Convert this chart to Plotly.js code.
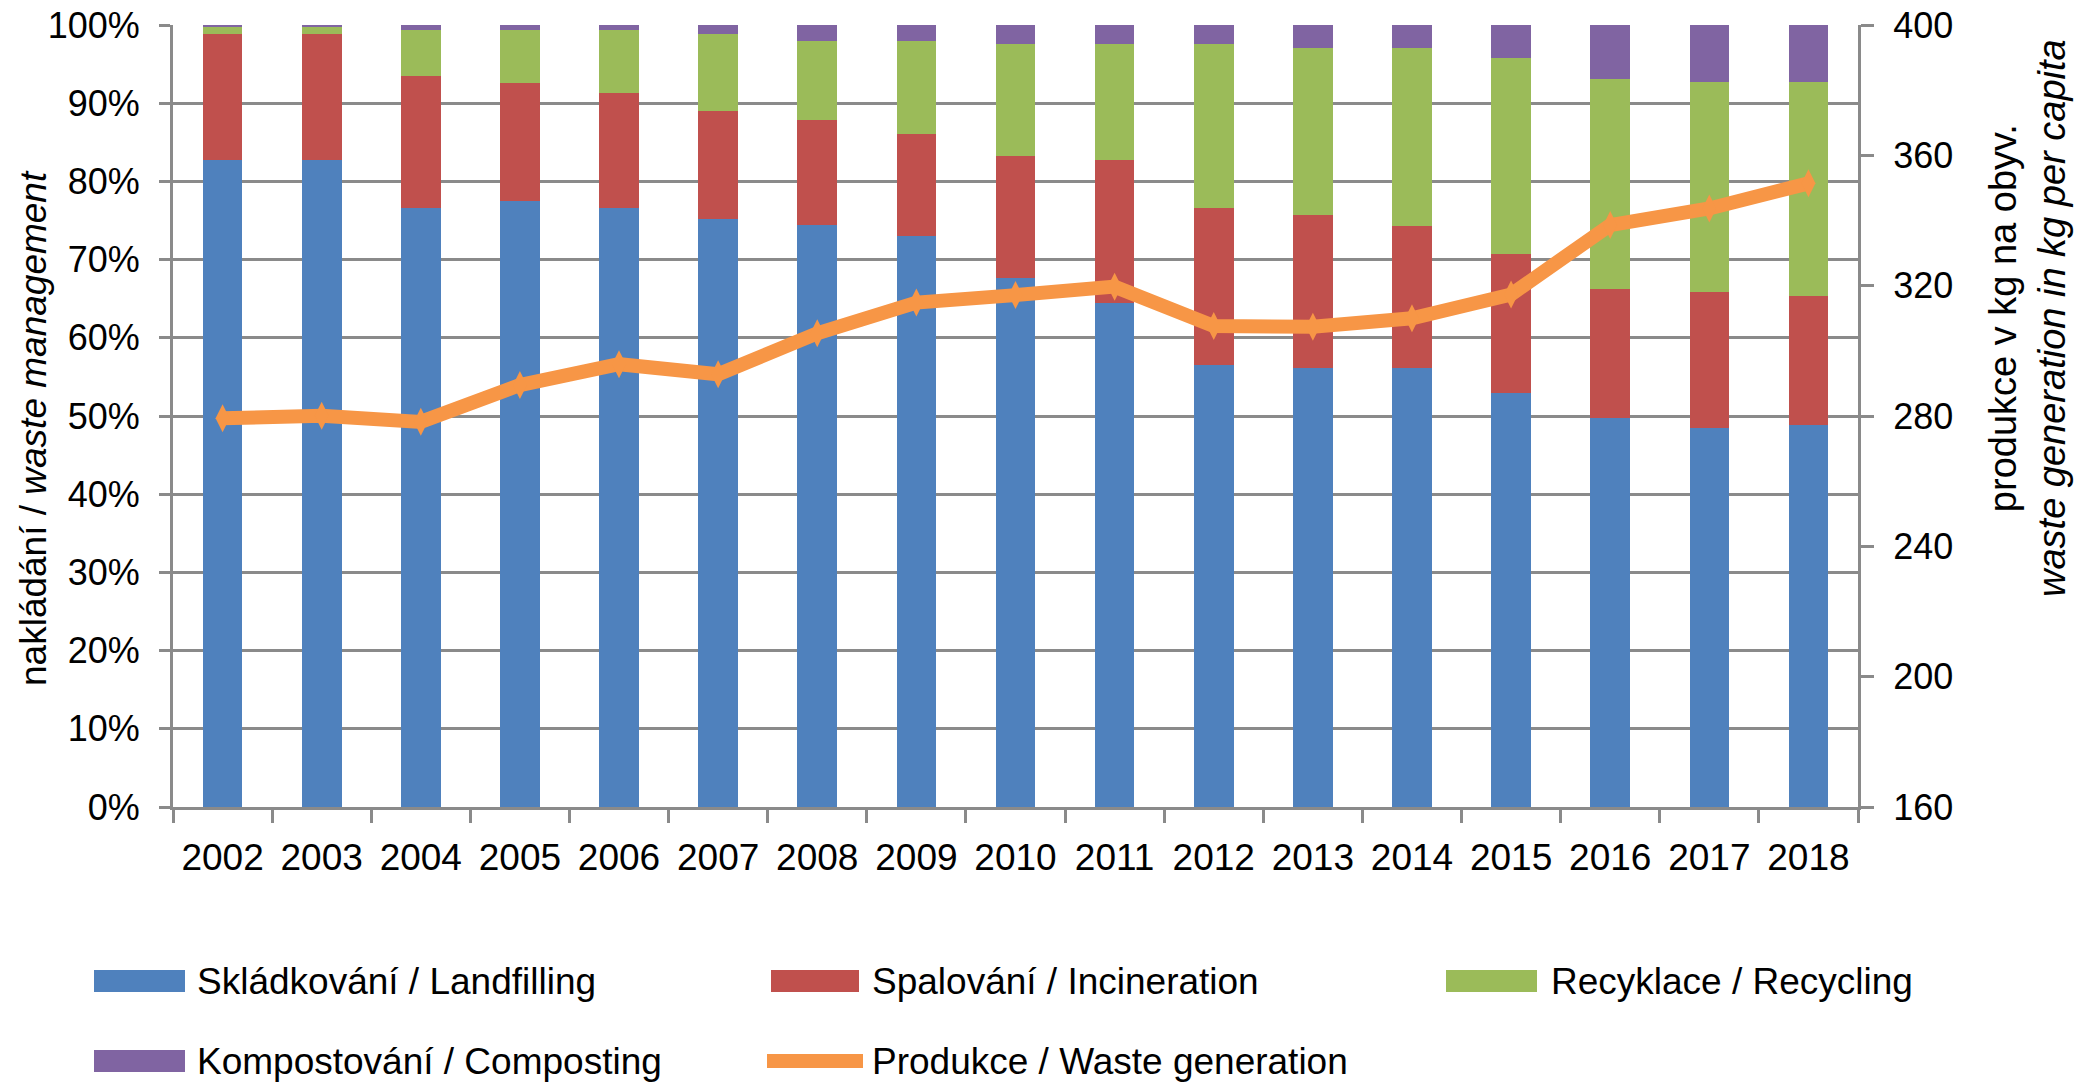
<!DOCTYPE html>
<html>
<head>
<meta charset="utf-8">
<script src="https://cdn.plot.ly/plotly-3.0.1.min.js"></script>
<style>
  html, body { margin: 0; padding: 0; background: #ffffff; }
  #chart { width: 2084px; height: 1084px; }
</style>
</head>
<body>
<div id="chart"></div>
<script>
// ---- data ----
const years = ['2002','2003','2004','2005','2006','2007','2008','2009','2010','2011','2012','2013','2014','2015','2016','2017','2018'];
const landfilling  = [82.8, 82.8, 76.6, 77.5, 76.6, 75.2, 74.4, 73.0, 67.7, 64.5, 56.5, 56.1, 56.1, 52.9, 49.8, 48.5, 48.9];
const incineration = [16.1, 16.1, 16.9, 15.1, 14.7, 13.8, 13.4, 13.0, 15.6, 18.3, 20.1, 19.6, 18.2, 17.8, 16.5, 17.4, 16.5];
const recycling    = [0.9, 0.9, 5.9, 6.8, 8.1, 9.9, 10.2, 12.0, 14.3, 14.8, 21.0, 21.4, 22.8, 25.1, 26.8, 26.8, 27.3];
const composting   = [0.2, 0.2, 0.6, 0.6, 0.6, 1.1, 2.0, 2.0, 2.4, 2.4, 2.4, 2.9, 2.9, 4.2, 6.9, 7.3, 7.3];
const generation   = [279.3, 280.1, 278.2, 289.5, 295.9, 292.8, 305.4, 314.8, 317.1, 319.7, 307.6, 307.4, 310.0, 317.3, 338.6, 343.7, 351.4];

const seriesNames = ['Skládkování / Landfilling', 'Spalování / Incineration', 'Recyklace / Recycling', 'Kompostování / Composting', 'Produkce / Waste generation'];
const leftTitle = 'nakládání / <i>waste management</i>';
const rightTitle = 'produkce v kg na obyv.<br><i>waste generation in kg per capita</i>';

// ---- styles ----
const colors = ['#4F81BD', '#C0504D', '#9BBB59', '#8064A2', '#F79646'];
const FONT = 'Liberation Sans, Arial, sans-serif';
const GRID = '#8a8a8a';

const barSeries = [landfilling, incineration, recycling, composting];
const traces = barSeries.map((vals, i) => ({
  type: 'bar', x: years, y: vals, name: seriesNames[i],
  marker: { color: colors[i], line: { width: 0 } },
  yaxis: 'y', hoverinfo: 'x+y+name'
}));
traces.push({
  type: 'scatter', mode: 'lines+markers', x: years, y: generation, name: seriesNames[4],
  yaxis: 'y2',
  line: { color: colors[4], width: 14 },
  marker: { symbol: 'diamond-tall', size: 20, color: colors[4] }
});

// geometry of the plot area (px)
const W = 2084, H = 1084;
const L = 173, R = 1858, T = 25, B = 807;
const px = x => (x - L) / (R - L);
const py = y => (B - y) / (B - T);

// custom legend (wide swatches like the original)
const legendItems = [
  { i: 0, x0: 94, x1: 185, tx: 195, cy: 981 },
  { i: 1, x0: 771, x1: 859, tx: 870, cy: 981 },
  { i: 2, x0: 1446, x1: 1537, tx: 1549, cy: 981 },
  { i: 3, x0: 94, x1: 185, tx: 195, cy: 1061 },
  { i: 4, x0: 771, x1: 859, tx: 870, cy: 1061, line: true }
];
const shapes = [];
const annotations = [];
legendItems.forEach(it => {
  if (it.line) {
    shapes.push({ type: 'line', xref: 'paper', yref: 'paper',
      x0: px(it.x0 - 4), x1: px(it.x1 + 4), y0: py(it.cy), y1: py(it.cy),
      line: { color: colors[it.i], width: 14 } });
  } else {
    shapes.push({ type: 'rect', xref: 'paper', yref: 'paper',
      x0: px(it.x0), x1: px(it.x1), y0: py(it.cy - 11), y1: py(it.cy + 11),
      fillcolor: colors[it.i], line: { width: 0 } });
  }
  annotations.push({ xref: 'paper', yref: 'paper', x: px(it.tx), y: py(it.cy),
    xanchor: 'left', yanchor: 'middle', showarrow: false,
    text: seriesNames[it.i], font: { family: FONT, size: 37, color: '#000' } });
});
annotations.push({ xref: 'paper', yref: 'paper', x: px(33), y: py(428),
  xanchor: 'center', yanchor: 'middle', showarrow: false, textangle: -90,
  text: leftTitle, font: { family: FONT, size: 37, color: '#000' } });
annotations.push({ xref: 'paper', yref: 'paper', x: px(2028), y: py(318),
  xanchor: 'center', yanchor: 'middle', showarrow: false, textangle: -90,
  text: rightTitle, font: { family: FONT, size: 38, color: '#000' } });

const layout = {
  width: W, height: H,
  margin: { l: L, r: W - R, t: T, b: H - B, pad: 0 },
  paper_bgcolor: '#ffffff', plot_bgcolor: '#ffffff',
  font: { family: FONT, size: 36, color: '#000' },
  barmode: 'stack', bargap: 0.6,
  showlegend: false,
  xaxis: {
    type: 'category', range: [-0.5, years.length - 0.5], autorange: false,
    showline: true, linecolor: GRID, linewidth: 3,
    ticks: 'outside', tickson: 'boundaries', ticklen: 13, tickcolor: GRID, tickwidth: 3,
    showgrid: false, tickfont: { family: FONT, size: 37, color: '#000' },
    ticklabelstandoff: 16, zeroline: false
  },
  yaxis: {
    range: [0, 100], dtick: 10, ticksuffix: '%',
    showline: true, linecolor: GRID, linewidth: 3,
    ticks: 'outside', ticklen: 11, tickcolor: GRID, tickwidth: 3,
    showgrid: true, gridcolor: GRID, gridwidth: 3, zeroline: false,
    tickfont: { family: FONT, size: 36, color: '#000' }, ticklabelstandoff: 12
  },
  yaxis2: {
    overlaying: 'y', side: 'right', range: [160, 400], dtick: 40,
    showline: true, linecolor: GRID, linewidth: 3,
    ticks: 'outside', ticklen: 13, tickcolor: GRID, tickwidth: 3,
    showgrid: false, zeroline: false,
    tickfont: { family: FONT, size: 36, color: '#000' }, ticklabelstandoff: 12
  },
  shapes: shapes,
  annotations: annotations
};

Plotly.newPlot('chart', traces, layout, { displayModeBar: false, staticPlot: true });
</script>
</body>
</html>
